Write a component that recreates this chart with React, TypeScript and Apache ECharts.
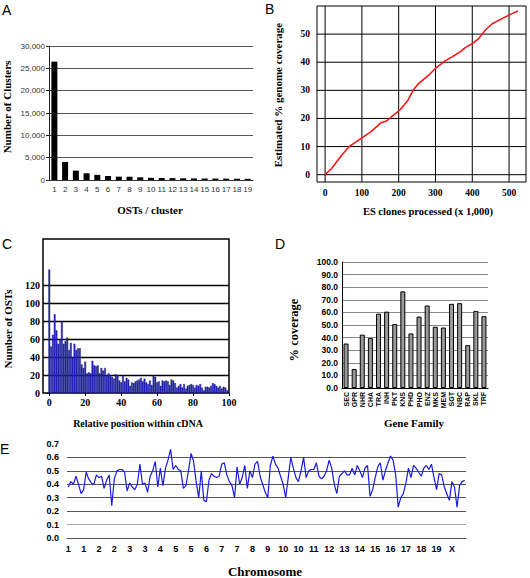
import React, { useEffect, useRef } from 'react';
import * as echarts from 'echarts';

// ---------- Panel A ----------
const A_CATS = ['1','2','3','4','5','6','7','8','9','10','11','12','13','14','15','16','17','18','19'];
const A_VALUES = [26500, 4050, 2100, 1500, 1150, 900, 750, 700, 600, 480, 450, 420, 380, 350, 330, 320, 300, 280, 270];

// ---------- Panel B ----------
const B_X = [0, 17, 46, 67, 99, 126, 152, 167, 185, 204, 225, 240, 254, 281, 299, 326, 345, 367, 381, 404, 417, 435, 454, 481, 508, 524];
const B_Y = [0, 2.1, 7.1, 10.2, 13.0, 15.4, 18.5, 19.1, 21.1, 23.1, 26.5, 30.2, 32.4, 35.3, 37.7, 40.5, 41.9, 43.7, 45.2, 47.0, 48.4, 51.4, 53.7, 55.5, 57.3, 58.2];
const B_XTICKS = [0, 100, 200, 300, 400, 500];
const B_YTICKS = [0, 10, 20, 30, 40, 50];
const B_XRANGE = [-22, 546];
const B_YRANGE = [-2.6, 60];

// ---------- Panel C ----------
const C_VALUES = [
  138, 52, 65, 88, 70, 55, 60, 80, 55, 58,
  62, 48, 56, 40, 55, 48, 50, 50, 32, 28,
  35, 22, 23, 22, 36, 31, 30, 31, 22, 28,
  25, 28, 20, 22, 20, 18, 16, 21, 20, 14,
  12, 20, 13, 17, 15, 8, 12, 11, 13, 14,
  15, 17, 13, 16, 12, 10, 14, 9, 20, 18,
  12, 13, 8, 14, 13, 14, 13, 9, 15, 14,
  11, 6, 8, 10, 6, 10, 5, 8, 9, 10,
  9, 6, 9, 8, 10, 6, 3, 7, 7, 6,
  8, 11, 10, 8, 6, 8, 5, 7, 6, 3,
];
const C_XTICKS = [0, 20, 40, 60, 80, 100];
const C_YTICKS = [0, 20, 40, 60, 80, 100, 120];
const C_GRID = [20, 40, 60, 80, 100, 120];

// ---------- Panel D ----------
const D_CATS = ['SEC','GPR','NHR','CHA','TRA','INH','PKT','KNS','PHD','PHO','ENZ','MKS','MEM','SGT','NBC','RAP','SKL','TRF'];
const D_VALUES = [35.3, 15.0, 42.3, 39.6, 59.0, 60.6, 50.7, 76.7, 43.3, 56.7, 65.5, 48.6, 48.0, 66.8, 67.3, 34.0, 61.2, 57.0];

// ---------- Panel E ----------
const CHROM_LABELS = ['1','1','2','2','3','3','4','5','5','6','7','7','8','9','10','10','11','12','13','14','15','16','17','18','19','X'];
const E_VALUES = [
  0.38, 0.42, 0.40, 0.46, 0.40, 0.33, 0.36, 0.49, 0.44, 0.41,
  0.40, 0.47, 0.45, 0.46, 0.37, 0.43, 0.47, 0.24, 0.44, 0.50,
  0.51, 0.51, 0.49, 0.35, 0.41, 0.38, 0.36, 0.40, 0.55, 0.40,
  0.41, 0.34, 0.46, 0.50, 0.57, 0.38, 0.52, 0.39, 0.52, 0.58,
  0.66, 0.51, 0.54, 0.51, 0.50, 0.37, 0.39, 0.50, 0.63, 0.57,
  0.42, 0.30, 0.50, 0.28, 0.27, 0.43, 0.48, 0.46, 0.45, 0.46,
  0.55, 0.56, 0.47, 0.42, 0.39, 0.30, 0.53, 0.40, 0.45, 0.54,
  0.37, 0.50, 0.45, 0.55, 0.57, 0.46, 0.40, 0.34, 0.30, 0.54,
  0.61, 0.55, 0.52, 0.46, 0.40, 0.30, 0.45, 0.60, 0.52, 0.45,
  0.42, 0.50, 0.60, 0.45, 0.50, 0.51, 0.51, 0.56, 0.46, 0.44,
  0.46, 0.50, 0.58, 0.52, 0.40, 0.33, 0.46, 0.48, 0.50, 0.47,
  0.47, 0.52, 0.47, 0.54, 0.50, 0.45, 0.52, 0.54, 0.31, 0.36,
  0.45, 0.53, 0.56, 0.43, 0.50, 0.56, 0.61, 0.58, 0.47, 0.23,
  0.30, 0.33, 0.41, 0.52, 0.45, 0.54, 0.52, 0.49, 0.46, 0.52,
  0.54, 0.51, 0.55, 0.45, 0.36, 0.48, 0.47, 0.38, 0.33, 0.28,
  0.42, 0.38, 0.23, 0.39, 0.42, 0.43,
];

const SERIF = '"Liberation Serif", "Times New Roman", serif';
const SANS = '"Liberation Sans", Arial, sans-serif';

function htext(x: number, y: number, text: string, font: string) {
  return { type: 'text', x, y, style: { text, font, fill: '#000', align: 'center', verticalAlign: 'middle' } };
}
function vtext(x: number, y: number, text: string, font: string) {
  return { type: 'text', x, y, rotation: Math.PI / 2, style: { text, font, fill: '#000', align: 'center', verticalAlign: 'middle' } };
}
function letter(x: number, y: number, text: string) {
  return { type: 'text', x, y, style: { text, font: `14px ${SANS}`, fill: '#000', align: 'left', verticalAlign: 'top' } };
}

const gridSeries = (xi: number, pts: number[][]) => ({
  type: 'line', xAxisIndex: xi, yAxisIndex: xi, data: pts, symbol: 'none', silent: true, z: 1,
  lineStyle: { color: '#000', width: 1 }, emphasis: { disabled: true },
});

export default function App() {
  const ref = useRef<HTMLDivElement>(null);
  useEffect(() => {
    if (!ref.current) return;
    const chart = echarts.init(ref.current, undefined, { renderer: 'svg' });
    const serifBold = (size: number) => ({ fontFamily: SERIF, fontWeight: 'bold', fontSize: size, color: '#000' });
    const sansBold = (size: number) => ({ fontFamily: SANS, fontWeight: 'bold', fontSize: size, color: '#000' });

    const option: any = {
      animation: false,
      backgroundColor: '#fff',
      grid: [
        { left: 49, top: 46, width: 204, height: 134 },
        { left: 317, top: 6, width: 209, height: 176, show: true, borderColor: '#000', borderWidth: 1 },
        { left: 43, top: 239, width: 186, height: 154, show: true, borderColor: '#000', borderWidth: 1.5 },
        { left: 342, top: 262, width: 146, height: 126 },
        { left: 67, top: 444, width: 399, height: 94 },
      ],
      xAxis: [
        {
          gridIndex: 0, type: 'category', data: A_CATS,
          axisLine: { lineStyle: { color: '#333' } },
          axisTick: { length: 3, lineStyle: { color: '#333' } },
          axisLabel: { interval: 0, fontFamily: SANS, fontSize: 8, color: '#333', margin: 5 },
        },
        {
          gridIndex: 1, type: 'value', min: B_XRANGE[0], max: B_XRANGE[1], splitNumber: 5,
          axisLine: { show: false },
          axisTick: { show: false },
          splitLine: { show: false },
          axisLabel: {
            ...serifBold(9.5), margin: 6, showMinLabel: false, showMaxLabel: false,
            formatter: (v: number) => (B_XTICKS.includes(v) ? String(v) : ''),
          },
        },
        {
          gridIndex: 2, type: 'value', min: -3.5, max: 100,
          axisLine: { show: false },
          axisTick: { show: true, length: 3, customValues: C_XTICKS, lineStyle: { color: '#000' } },
          splitLine: { show: false },
          axisLabel: { customValues: C_XTICKS, ...serifBold(10), margin: 4 },
        },
        {
          gridIndex: 3, type: 'category', data: D_CATS,
          axisLine: { lineStyle: { color: '#000' } },
          axisTick: { show: false },
          axisLabel: { interval: 0, rotate: 90, ...sansBold(7), margin: 4 },
        },
        {
          gridIndex: 4, type: 'category', data: E_VALUES.map((_, i) => String(i)),
          axisLine: { lineStyle: { color: '#555' } },
          axisTick: { interval: 0, length: 3, lineStyle: { color: '#555' } },
          axisLabel: {
            interval: 5, ...sansBold(9), margin: 6,
            formatter: (_v: string, idx: number) => CHROM_LABELS[Math.round(idx / 6)] ?? '',
          },
        },
      ],
      yAxis: [
        {
          gridIndex: 0, type: 'value', min: 0, max: 30000, interval: 5000,
          axisLine: { show: true, lineStyle: { color: '#222' } },
          axisTick: { show: true, length: 3, lineStyle: { color: '#222' } },
          splitLine: { lineStyle: { color: '#555', width: 1 } },
          axisLabel: { fontFamily: SANS, fontSize: 8, color: '#333', margin: 4, formatter: (v: number) => v.toLocaleString('en-US') },
        },
        {
          gridIndex: 1, type: 'value', min: B_YRANGE[0], max: B_YRANGE[1], splitNumber: 5,
          axisLine: { show: false },
          axisTick: { show: false },
          splitLine: { show: false },
          axisLabel: {
            ...serifBold(9.5), margin: 7, showMinLabel: false, showMaxLabel: false,
            formatter: (v: number) => (B_YTICKS.includes(v) ? String(v) : ''),
          },
        },
        {
          gridIndex: 2, type: 'value', min: 0, max: 172,
          axisLine: { show: false },
          axisTick: { show: true, length: 3, customValues: C_YTICKS, lineStyle: { color: '#000' } },
          splitLine: { show: false },
          axisLabel: { customValues: C_YTICKS, ...serifBold(10), margin: 3 },
        },
        {
          gridIndex: 3, type: 'value', min: 0, max: 100, interval: 10,
          axisLine: { show: true, lineStyle: { color: '#000' } },
          axisTick: { show: false },
          splitLine: { lineStyle: { color: '#888', width: 1 } },
          axisLabel: { ...sansBold(8.5), margin: 4, formatter: (v: number) => v.toFixed(1) },
        },
        {
          gridIndex: 4, type: 'value', min: 0, max: 0.7, interval: 0.1,
          axisLine: { show: false },
          axisTick: { show: false },
          splitLine: { showMinLine: false, showMaxLine: false, lineStyle: { color: ['#aaa', '#555', '#555', '#555', '#555', '#555'], width: 1 } },
          axisLabel: { ...sansBold(9), margin: 8, formatter: (v: number) => v.toFixed(1) },
        },
      ],
      series: [
        {
          type: 'bar', xAxisIndex: 0, yAxisIndex: 0, data: A_VALUES, barWidth: 6,
          itemStyle: { color: '#000' },
        },
        ...B_XTICKS.map((x) => gridSeries(1, [[x, B_YRANGE[0]], [x, B_YRANGE[1]]])),
        ...B_YTICKS.map((y) => gridSeries(1, [[B_XRANGE[0], y], [B_XRANGE[1], y]])),
        {
          type: 'line', xAxisIndex: 1, yAxisIndex: 1, z: 3,
          data: B_X.map((x, i) => [x, B_Y[i]]),
          symbol: 'none', lineStyle: { color: '#ff1010', width: 1.5 },
        },
        {
          type: 'bar', xAxisIndex: 2, yAxisIndex: 2, z: 3,
          data: C_VALUES.map((v, i) => [i, v]), barWidth: 1.8,
          itemStyle: { color: '#2828d8', borderColor: '#15155a', borderWidth: 0.4 },
          markLine: {
            silent: true, z: 1, symbol: ['none', 'none'], label: { show: false },
            lineStyle: { color: '#000', width: 1.3, type: 'solid' },
            data: C_GRID.map((v) => ({ yAxis: v })),
          },
        },
        {
          type: 'bar', xAxisIndex: 3, yAxisIndex: 3, data: D_VALUES, barWidth: 5,
          itemStyle: { color: '#999', borderColor: '#000', borderWidth: 1 },
        },
        {
          type: 'line', xAxisIndex: 4, yAxisIndex: 4, data: E_VALUES,
          symbol: 'none', lineStyle: { color: '#1a1ae6', width: 1.2 },
        },
      ],
      graphic: [
        letter(2, 3, 'A'),
        letter(265, 2, 'B'),
        letter(2, 237, 'C'),
        letter(275, 237, 'D'),
        letter(0, 442, 'E'),
        vtext(7, 107, 'Number of Clusters', `bold 11px ${SERIF}`),
        htext(150, 210, 'OSTs / cluster', `bold 11px ${SERIF}`),
        vtext(278, 95, 'Estimated % genome coverage', `bold 11px ${SERIF}`),
        htext(428, 211, 'ES clones processed (x 1,000)', `bold 10.5px ${SERIF}`),
        vtext(8, 329, 'Number of OSTs', `bold 11px ${SERIF}`),
        htext(138, 423, 'Relative position within cDNA', `bold 10px ${SERIF}`),
        vtext(294, 330, '% coverage', `bold 12.5px ${SERIF}`),
        htext(414, 423, 'Gene Family', `bold 11px ${SERIF}`),
        htext(265, 571, 'Chromosome', `bold 13px ${SERIF}`),
      ],
    };
    chart.setOption(option);
    return () => chart.dispose();
  }, []);
  return <div ref={ref} style={{ position: 'absolute', left: 0, top: 0, width: 530, height: 578 }} />;
}
